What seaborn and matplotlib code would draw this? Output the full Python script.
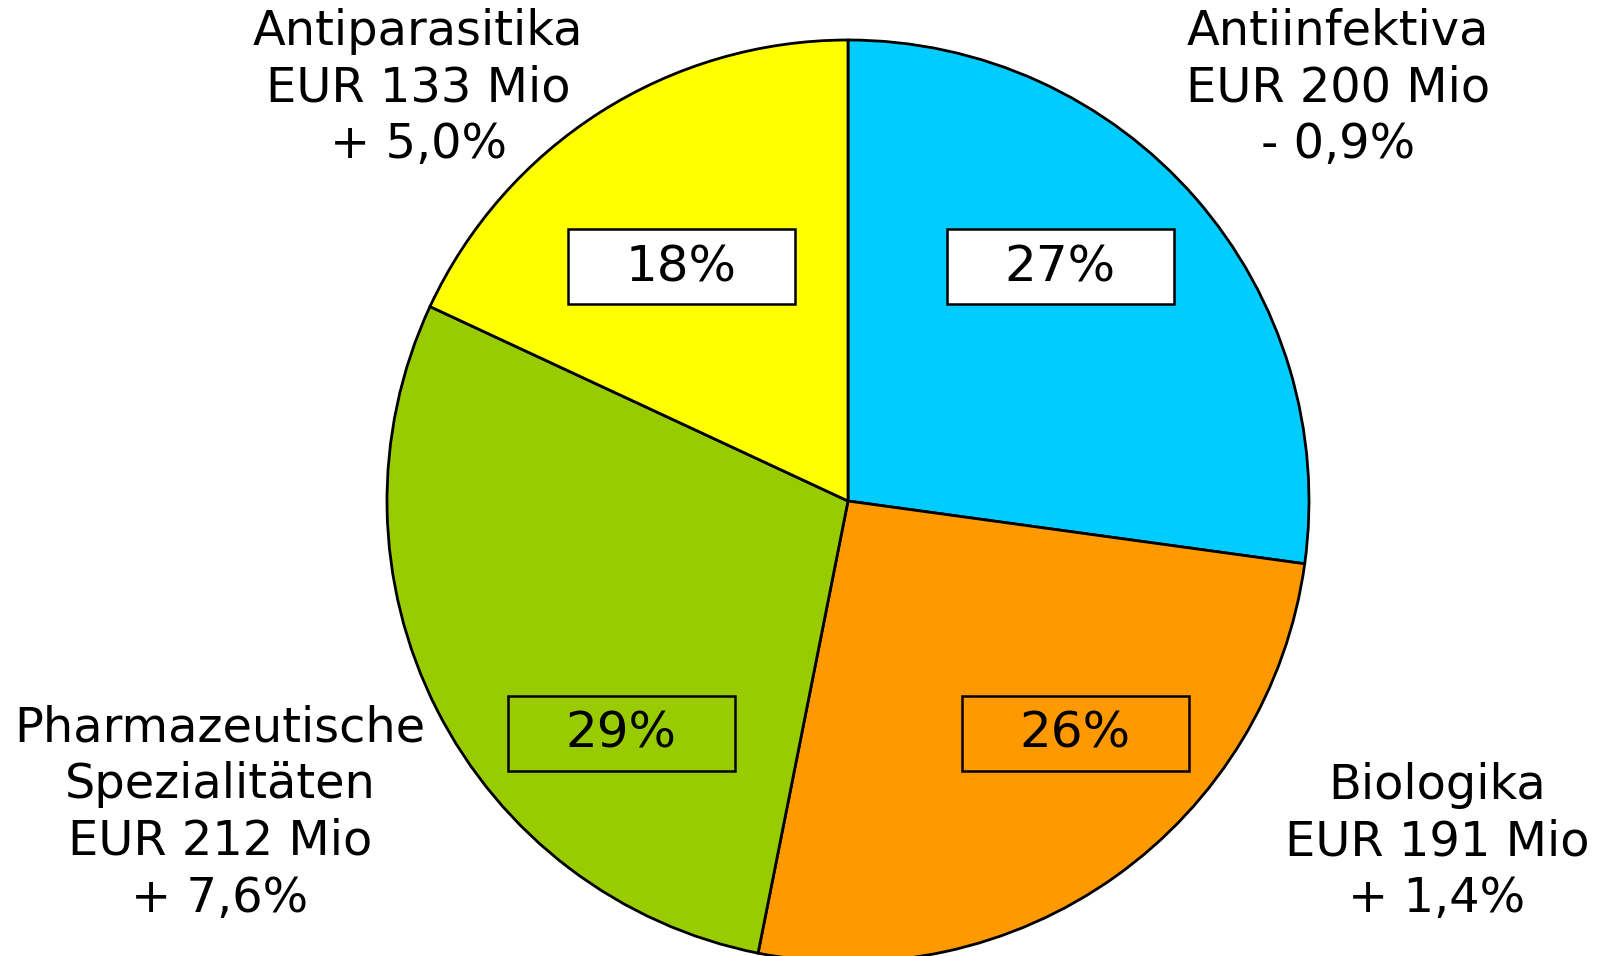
import matplotlib
matplotlib.use("Agg")
import matplotlib.pyplot as plt
import seaborn as sns
from matplotlib.patches import Rectangle

# data
segments = ["Antiinfektiva", "Biologika", "Pharmazeutische\nSpezialitäten", "Antiparasitika"]
revenue_mio = [200, 191, 212, 133]
growth = ["- 0,9%", "+ 1,4%", "+ 7,6%", "+ 5,0%"]
colors = ["#00CCFF", "#FF9900", "#99CC00", "#FFFF00"]
box_fill = ["white", "none", "none", "white"]

sns.set_theme(style="white")
plt.rcParams["font.family"] = ["DejaVu Sans"]

W, H = 1598, 956
fig = plt.figure(figsize=(W / 100, H / 100), dpi=100)
ax = fig.add_axes([0, 0, 1, 1])
ax.set_xlim(0, W)
ax.set_ylim(0, H)
ax.set_aspect("equal")
ax.axis("off")

cx, cy, r = 848, H - 501, 461
wedges, _, autotexts = ax.pie(
    revenue_mio, colors=colors, startangle=90, counterclock=False,
    center=(cx, cy), radius=r, autopct=lambda p: f"{p:.0f}%",
    wedgeprops=dict(edgecolor="black", linewidth=2.0),
    textprops=dict(fontsize=36, color="black"))
ax.set_xlim(0, W)
ax.set_ylim(0, H)

# percentage boxes (placed like the original slide)
pct_pos = [(1060, 267), (1075, 734), (621, 734), (681, 267)]
for t, (px, py), fc in zip(autotexts, pct_pos, box_fill):
    t.set_position((px, H - py))
    t.set_ha("center")
    t.set_va("center")
    t.set_zorder(5)
    ax.add_patch(Rectangle((px - 113, H - py - 37), 227, 75, facecolor=fc,
                           edgecolor="black", linewidth=1.8, zorder=4))

# outer labels
label_pos = [(1338, 88), (1437, 842), (220, 813), (418, 88)]
for name, val, g, (lx, ly) in zip(segments, revenue_mio, growth, label_pos):
    ax.text(lx, H - ly, f"{name}\nEUR {val} Mio\n{g}", ha="center", va="center",
            fontsize=34.5, linespacing=1.27, color="black", zorder=6)

fig.savefig("out.png", dpi=100)
